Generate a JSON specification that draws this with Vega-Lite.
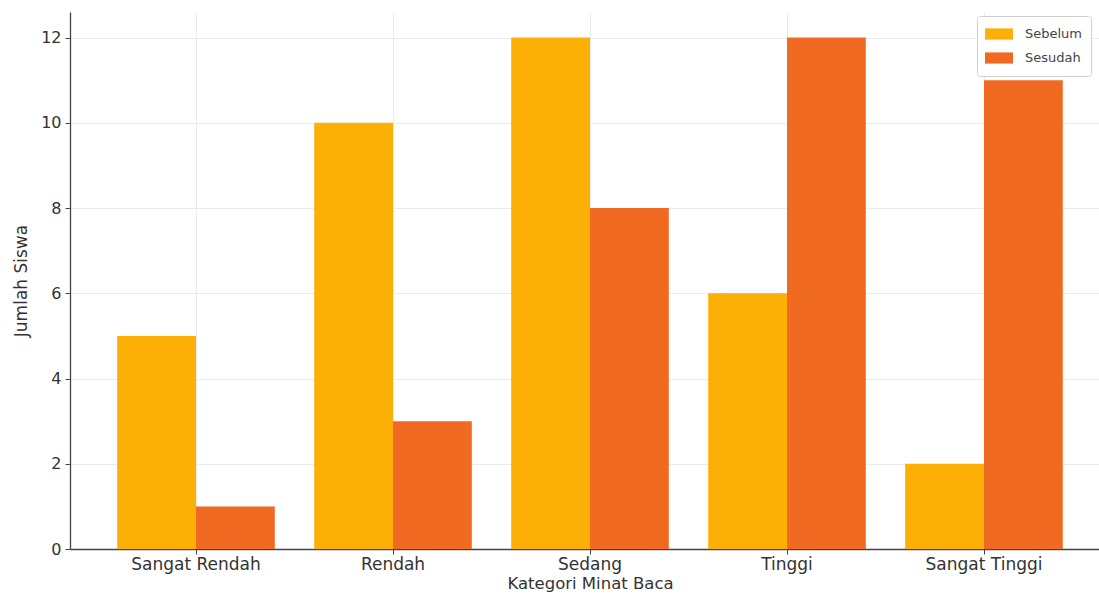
{
  "$schema": "https://vega.github.io/schema/vega-lite/v6.json",
  "width": 1029,
  "height": 537,
  "autosize": "none",
  "padding": {"left": 70, "top": 12, "right": 0, "bottom": 47},
  "background": "white",
  "config": {
    "font": "DejaVu Sans",
    "view": {"stroke": null},
    "axis": {
      "labelFont": "DejaVu Sans",
      "titleFont": "DejaVu Sans",
      "labelFontSize": 16,
      "titleFontSize": 17,
      "labelColor": "#333333",
      "titleColor": "#333333",
      "titleFontWeight": "normal",
      "domainColor": "#444444",
      "domainWidth": 1.3,
      "tickColor": "#444444",
      "tickSize": 5,
      "labelPadding": 4,
      "gridColor": "#ebebeb",
      "gridWidth": 1
    }
  },
  "data": {
    "values": [
      {"kategori": "Sangat Rendah", "waktu": "Sebelum", "jumlah": 5},
      {"kategori": "Sangat Rendah", "waktu": "Sesudah", "jumlah": 1},
      {"kategori": "Rendah", "waktu": "Sebelum", "jumlah": 10},
      {"kategori": "Rendah", "waktu": "Sesudah", "jumlah": 3},
      {"kategori": "Sedang", "waktu": "Sebelum", "jumlah": 12},
      {"kategori": "Sedang", "waktu": "Sesudah", "jumlah": 8},
      {"kategori": "Tinggi", "waktu": "Sebelum", "jumlah": 6},
      {"kategori": "Tinggi", "waktu": "Sesudah", "jumlah": 12},
      {"kategori": "Sangat Tinggi", "waktu": "Sebelum", "jumlah": 2},
      {"kategori": "Sangat Tinggi", "waktu": "Sesudah", "jumlah": 11}
    ]
  },
  "mark": {"type": "bar"},
  "encoding": {
    "x": {
      "field": "kategori",
      "type": "nominal",
      "sort": ["Sangat Rendah", "Rendah", "Sedang", "Tinggi", "Sangat Tinggi"],
      "scale": {"paddingInner": 0.2, "paddingOuter": 0.2117, "align": 0.566},
      "axis": {
        "title": "Kategori Minat Baca",
        "labelAngle": 0,
        "labelFontSize": 17,
        "titleFontSize": 16.5,
        "grid": true,
        "bandPosition": 0.5,
        "labelPadding": 2,
        "titlePadding": 3,
        "titleX": 520
      }
    },
    "xOffset": {
      "field": "waktu",
      "type": "nominal",
      "sort": ["Sebelum", "Sesudah"],
      "scale": {"paddingInner": 0, "paddingOuter": 0}
    },
    "y": {
      "field": "jumlah",
      "type": "quantitative",
      "scale": {"domain": [0, 12.6], "nice": false},
      "axis": {
        "title": "Jumlah Siswa",
        "values": [0, 2, 4, 6, 8, 10, 12],
        "grid": true,
        "titlePadding": 10
      }
    },
    "color": {
      "field": "waktu",
      "type": "nominal",
      "sort": ["Sebelum", "Sesudah"],
      "scale": {"domain": ["Sebelum", "Sesudah"], "range": ["#FCAF05", "#F06A22"]},
      "legend": {
        "title": null,
        "orient": "none",
        "legendX": 907,
        "legendY": 4,
        "symbolType": "M-1,-0.4H1V0.4H-1Z",
        "symbolSize": 784,
        "symbolStrokeWidth": 0,
        "labelFont": "DejaVu Sans",
        "labelFontSize": 13,
        "labelColor": "#444444",
        "labelOffset": 12,
        "clipHeight": 20,
        "rowPadding": 4,
        "padding": 8,
        "strokeColor": "#d0d0d0",
        "fillColor": "white",
        "cornerRadius": 3
      }
    }
  }
}
